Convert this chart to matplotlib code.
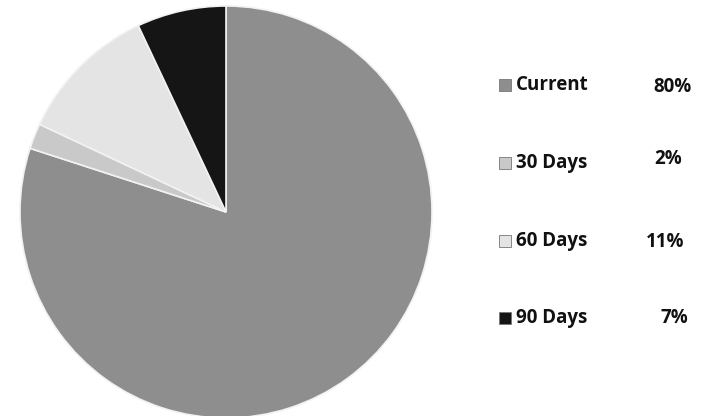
import matplotlib
matplotlib.use("Agg")
import matplotlib.pyplot as plt
from matplotlib.patches import Rectangle

categories = ["Current", "30 Days", "60 Days", "90 Days"]
values = [80, 2, 11, 7]
pct_labels = ["80%", "2%", "11%", "7%"]
colors = ["#8e8e8e", "#c9c9c9", "#e4e4e4", "#151515"]

W, H = 712, 416
fig = plt.figure(figsize=(W / 100, H / 100), dpi=100)
fig.patch.set_facecolor("white")

# pie axes: center (226,212), radius ~206 px
cx, cy, r = 226, 212, 206
ax = fig.add_axes([(cx - r) / W, (H - cy - r) / H, 2 * r / W, 2 * r / H])
ax.pie(values, colors=colors, startangle=90, counterclock=False, radius=1,
       wedgeprops=dict(edgecolor="#f2f2f2", linewidth=1.2))
ax.set_xlim(-1, 1)
ax.set_ylim(-1, 1)
ax.set_aspect("equal")
ax.axis("off")

# legend
label_ys = [85, 163, 241, 318]
pct_xy = [(673, 87), (668, 159), (665, 242), (674, 318)]
font = dict(family=["Open Sans", "DejaVu Sans"], fontweight="bold", fontsize=13.5)
for cat, col, y, pct, (px, py) in zip(categories, colors, label_ys, pct_labels, pct_xy):
    s = 12
    fig.add_artist(Rectangle(((499) / W, (H - y - s / 2) / H), s / W, s / H,
                             transform=fig.transFigure, facecolor=col,
                             edgecolor="#777777", linewidth=0.6))
    fig.text(516 / W, (H - y) / H, cat, ha="left", va="center", color="#111111", **font)
    fig.text(px / W, (H - py) / H, pct, ha="center", va="center", color="#111111", **font)

fig.savefig("out.png", dpi=100, facecolor="white")
